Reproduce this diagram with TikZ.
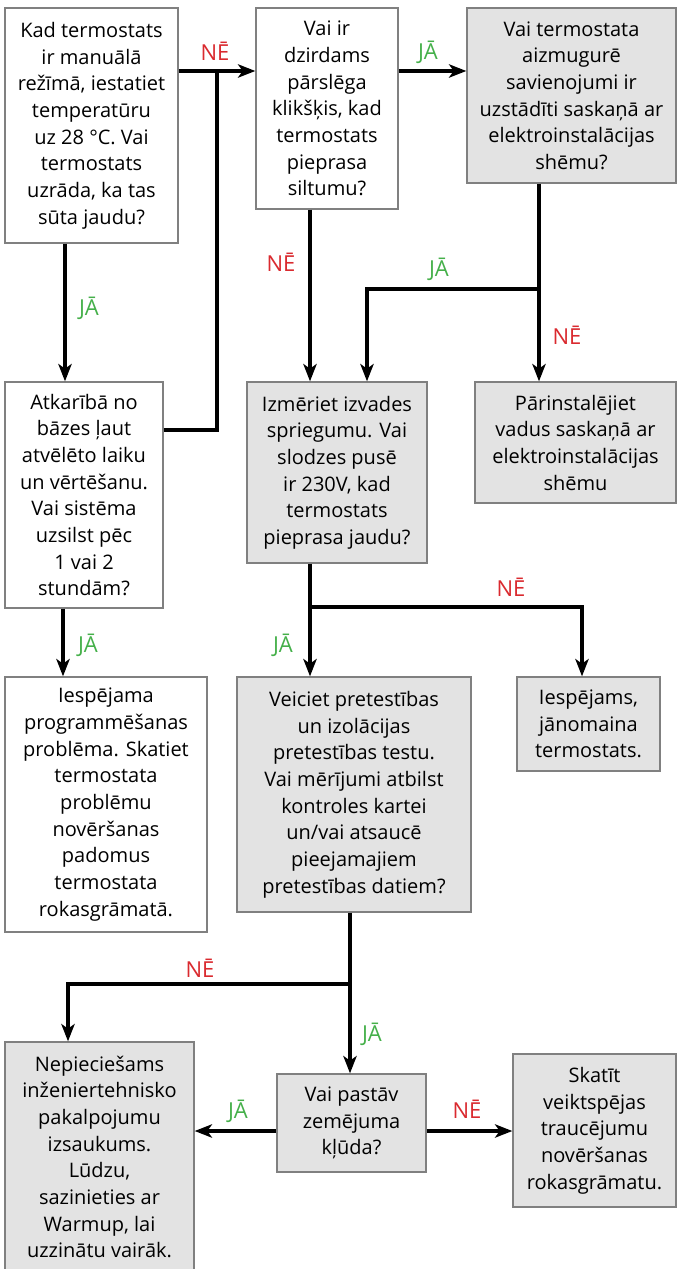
\documentclass[tikz,border=0pt]{standalone}
\usepackage{fontspec}
\setmainfont{Open Sans}
\usetikzlibrary{arrows.meta}
\definecolor{boxgray}{HTML}{E3E3E3}
\definecolor{edgegray}{HTML}{808080}
\definecolor{yesgreen}{HTML}{45B04A}
\definecolor{nored}{HTML}{DA2A2F}
\tikzset{
  box/.style={draw=edgegray, line width=1pt, inner sep=0pt, align=center,
    font=\fontsize{15}{20}\selectfont},
  whitebox/.style={box, fill=white},
  graybox/.style={box, fill=boxgray},
  conn/.style={line width=2.3pt, draw=black},
  arr/.style={conn, -{Stealth[length=13pt,width=10pt,inset=3.5pt]}},
  yeslab/.style={text=yesgreen, font=\fontsize{16.5}{20}\selectfont, inner sep=0pt},
  nolab/.style={text=nored, font=\fontsize{16.5}{20}\selectfont, inner sep=0pt},
}
\begin{document}
\begin{tikzpicture}[x=0.75pt,y=-0.75pt]
\useasboundingbox (0,0) rectangle (677,1269);
\fill[white] (0,0) rectangle (677,1269);

% boxes
\node[whitebox, minimum width=173*0.75pt, minimum height=235*0.75pt] (n1) at (91.5,125.5)
  {Kad termostats\\ir manuālā\\režīmā, iestatiet\\temperatūru\\uz 28 °C. Vai\\termostats\\uzrāda, ka tas\\sūta jaudu?};
\node[whitebox, minimum width=142*0.75pt, minimum height=201*0.75pt] (n2) at (327,108.5)
  {Vai ir\\dzirdams\\pārslēga\\klikšķis, kad\\termostats\\pieprasa\\siltumu?};
\node[graybox, minimum width=209*0.75pt, minimum height=175*0.75pt] (n3) at (571.5,95.5)
  {Vai termostata\\aizmugurē\\savienojumi ir\\uzstādīti saskaņā ar\\elektroinstalācijas\\shēmu?};
\node[whitebox, minimum width=158*0.75pt, minimum height=226*0.75pt] (n4) at (84,495)
  {Atkarībā no\\bāzes ļaut\\atvēlēto laiku\\un vērtēšanu.\\Vai sistēma\\uzsilst pēc\\1 vai 2\\stundām?};
\node[graybox, minimum width=180*0.75pt, minimum height=181*0.75pt] (n5) at (337,472.5)
  {Izmēriet izvades\\spriegumu. Vai\\slodzes pusē\\ir 230V, kad\\termostats\\pieprasa jaudu?};
\node[graybox, minimum width=201*0.75pt, minimum height=121*0.75pt] (n6) at (575.5,442.5)
  {Pārinstalējiet\\vadus saskaņā ar\\elektroinstalācijas\\shēmu};
\node[whitebox, minimum width=202*0.75pt, minimum height=255*0.75pt] (n7) at (106,804.5)
  {Iespējama\\programmēšanas\\problēma. Skatiet\\termostata\\problēmu\\novēršanas\\padomus\\termostata\\rokasgrāmatā.};
\node[graybox, minimum width=234*0.75pt, minimum height=235*0.75pt] (n8) at (354,794.5)
  {Veiciet pretestības\\un izolācijas\\pretestības testu.\\Vai mērījumi atbilst\\kontroles kartei\\un/vai atsaucē\\pieejamajiem\\pretestības datiem?};
\node[graybox, minimum width=143*0.75pt, minimum height=94*0.75pt] (n9) at (588.5,724)
  {Iespējams,\\jānomaina\\termostats.};
\node[graybox, minimum width=189*0.75pt, minimum height=230*0.75pt] (n10) at (99.5,1157)
  {Nepieciešams\\inženiertehnisko\\pakalpojumu\\izsaukums.\\Lūdzu,\\sazinieties ar\\Warmup, lai\\uzzinātu vairāk.};
\node[graybox, minimum width=149*0.75pt, minimum height=98*0.75pt] (n11) at (351.5,1123)
  {Vai pastāv\\zemējuma\\kļūda?};
\node[graybox, minimum width=163*0.75pt, minimum height=153*0.75pt] (n12) at (594.5,1130.5)
  {Skatīt\\veiktspējas\\traucējumu\\novēršanas\\rokasgrāmatu.};

% helper coordinates
\coordinate (r1) at (217,71);
\coordinate (j1) at (217,430);
\coordinate (c1) at (65,0);
\coordinate (c2) at (310,0);
\coordinate (b3) at (539,289);
\coordinate (b3l) at (367,289);
\coordinate (b5) at (310,607);
\coordinate (b5r) at (582,607);
\coordinate (c4) at (63,0);
\coordinate (b8) at (350,984);
\coordinate (b8l) at (68,984);
\coordinate (r11) at (0,1131);

% connectors
\draw[arr] (n1.east |- r1) -- (n2.west |- r1);
\draw[conn] (n4.east |- j1) -- (j1) -- (r1);
\draw[arr] (n2.east |- r1) -- (n3.west |- r1);
\draw[arr] (n1.south -| c1) -- (n4.north -| c1);
\draw[arr] (n2.south -| c2) -- (n5.north -| c2);
\draw[arr] (n3.south -| b3) -- (n6.north -| b3);
\draw[arr] (b3) -- (b3l) -- (n5.north -| b3l);
\draw[arr] (n5.south -| b5) -- (n8.north -| b5);
\draw[arr] (b5) -- (b5r) -- (n9.north -| b5r);
\draw[arr] (n4.south -| c4) -- (n7.north -| c4);
\draw[arr] (n8.south -| b8) -- (n11.north -| b8);
\draw[arr] (b8) -- (b8l) -- (n10.north -| b8l);
\draw[arr] (n11.west |- r11) -- (n10.east |- r11);
\draw[arr] (n11.east |- r11) -- (n12.west |- r11);

% labels
\node[nolab] (l1) at (215,51) {NĒ};
\node[nolab] (l2) at (281,262) {NĒ};
\node[yeslab] (l3) at (428,52) {JĀ};
\node[yeslab] (l4) at (89,308) {JĀ};
\node[yeslab] (l5) at (439,269) {JĀ};
\node[nolab] (l6) at (567,335) {NĒ};
\node[nolab] (l7) at (511,587) {NĒ};
\node[yeslab] (l8) at (283,645) {JĀ};
\node[yeslab] (l9) at (88,645) {JĀ};
\node[nolab] (l10) at (200,968) {NĒ};
\node[yeslab] (l11) at (372,1034) {JĀ};
\node[yeslab] (l12) at (238,1111) {JĀ};
\node[nolab] (l13) at (467,1109) {NĒ};
\end{tikzpicture}
\end{document}
